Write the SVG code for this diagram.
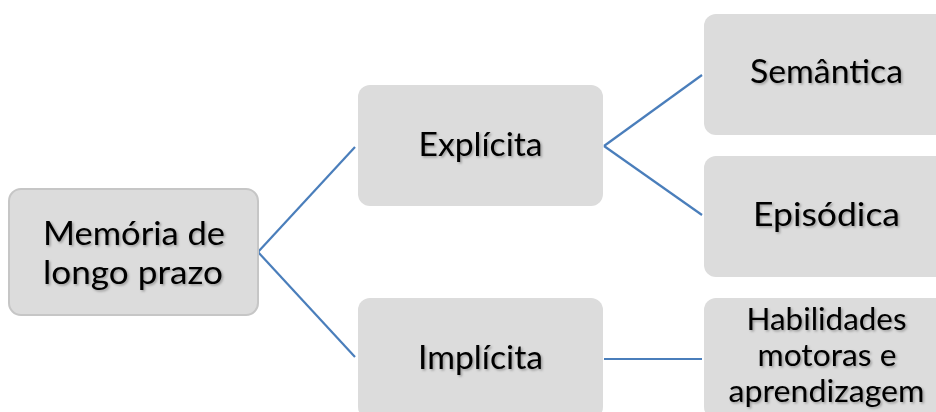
<svg xmlns="http://www.w3.org/2000/svg" width="936" height="412" viewBox="0 0 936 412">
  <defs>
    <filter id="shadow" x="-10%" y="-20%" width="130%" height="150%">
      <feDropShadow dx="1.5" dy="1.5" stdDeviation="1" flood-color="#000" flood-opacity="0.3"/>
    </filter>
    <style>
      .box { fill: #dcdcdc; }
      .root { fill: #dcdcdc; stroke: #c6c6c6; stroke-width: 2; }
      .lbl { font-family: Lato, "Liberation Sans", sans-serif; font-size: 32px; fill: #000; text-anchor: middle; filter: url(#shadow); }
      .sm { font-size: 30px; }
      .conn { stroke: #4a7ebb; stroke-width: 2.2; fill: none; }
    </style>
  </defs>
  <rect width="936" height="412" fill="#fff"/>
  <g id="connectors">
    <path class="conn" d="M258,252 L355,147"/>
    <path class="conn" d="M258,252 L355,357"/>
    <path class="conn" d="M604,146 L702,75"/>
    <path class="conn" d="M604,146 L702,215"/>
    <path class="conn" d="M604,359 L702,359"/>
  </g>
  <g id="node-memoria">
    <rect class="root" x="9" y="189" width="249" height="126" rx="12"/>
    <text class="lbl" x="134" y="245" textLength="182" lengthAdjust="spacingAndGlyphs">Memória de</text>
    <text class="lbl" x="133" y="284" textLength="180" lengthAdjust="spacingAndGlyphs">longo prazo</text>
  </g>
  <g id="node-explicita">
    <rect class="box" x="358" y="85" width="245" height="121" rx="12"/>
    <text class="lbl" x="480.5" y="156" textLength="124" lengthAdjust="spacingAndGlyphs">Explícita</text>
  </g>
  <g id="node-implicita">
    <rect class="box" x="358" y="298" width="245" height="121" rx="12"/>
    <text class="lbl" x="480.5" y="369" textLength="125" lengthAdjust="spacingAndGlyphs">Implícita</text>
  </g>
  <g id="node-semantica">
    <rect class="box" x="704" y="14" width="245" height="121" rx="12"/>
    <text class="lbl" x="826.5" y="83" textLength="153" lengthAdjust="spacingAndGlyphs">Semântica</text>
  </g>
  <g id="node-episodica">
    <rect class="box" x="704" y="156" width="245" height="121" rx="12"/>
    <text class="lbl" x="826.5" y="226" textLength="147" lengthAdjust="spacingAndGlyphs">Episódica</text>
  </g>
  <g id="node-habilidades">
    <rect class="box" x="704" y="298" width="245" height="121" rx="12"/>
    <text class="lbl sm" x="826.5" y="330" textLength="160" lengthAdjust="spacingAndGlyphs">Habilidades</text>
    <text class="lbl sm" x="827" y="366" textLength="139" lengthAdjust="spacingAndGlyphs">motoras e</text>
    <text class="lbl sm" x="826.5" y="402" textLength="196" lengthAdjust="spacingAndGlyphs">aprendizagem</text>
  </g>
</svg>
